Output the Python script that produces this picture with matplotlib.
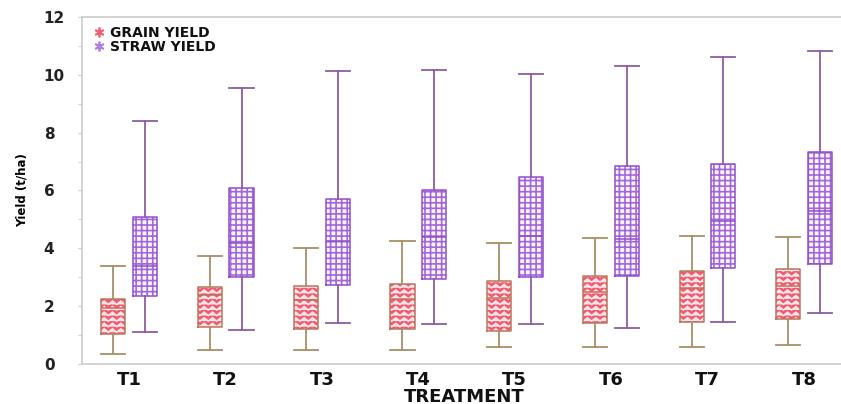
# -*- coding: utf-8 -*-
# Grain and straw yield box plots per treatment (T1..T8)

import numpy as np
import matplotlib
matplotlib.use('Agg')
import matplotlib.pyplot as plt
import matplotlib.hatch as mhatch
from matplotlib.path import Path
from matplotlib.lines import Line2D

# data (t/ha)
treatments = ['T1', 'T2', 'T3', 'T4', 'T5', 'T6', 'T7', 'T8']

grain_low = [0.34, 0.48, 0.48, 0.48, 0.58, 0.58, 0.58, 0.65]
grain_q1 = [1.03, 1.29, 1.20, 1.22, 1.14, 1.42, 1.45, 1.55]
grain_med = [1.94, 2.38, 2.21, 2.26, 2.27, 2.48, 2.64, 2.70]
grain_q3 = [2.26, 2.65, 2.69, 2.78, 2.88, 3.04, 3.20, 3.27]
grain_high = [3.40, 3.75, 4.01, 4.27, 4.18, 4.37, 4.44, 4.39]

straw_low = [1.10, 1.18, 1.41, 1.37, 1.37, 1.25, 1.44, 1.78]
straw_q1 = [2.35, 3.02, 2.72, 2.95, 3.02, 3.06, 3.31, 3.47]
straw_med = [3.40, 4.20, 4.27, 4.40, 4.43, 4.31, 4.95, 5.29]
straw_q3 = [5.07, 6.10, 5.71, 6.03, 6.46, 6.85, 6.91, 7.32]
straw_high = [8.42, 9.54, 10.12, 10.15, 10.04, 10.30, 10.63, 10.84]


class WaveHatch(mhatch.HatchPatternBase):
    """'-' gives zigzag lines, '+' keeps the plain horizontal lines"""

    def __init__(self, hatch, density):
        self.num_waves = int(hatch.count('-') * density)
        self.num_lines = int(hatch.count('+') * density)
        self.periods = 12
        self.pts = self.periods * 2 + 1
        self.num_vertices = self.num_waves * self.pts + self.num_lines * 2

    def set_vertices_and_codes(self, vertices, codes):
        cur = 0
        if self.num_waves:
            steps, step = np.linspace(0.0, 1.0, self.num_waves, False, retstep=True)
            steps += step / 2.
            xs = np.linspace(0.0, 1.0, self.pts)
            amp = np.where(np.arange(self.pts) % 2 == 1, 0.3 * step, -0.3 * step)
            for s in steps:
                vertices[cur:cur + self.pts, 0] = xs
                vertices[cur:cur + self.pts, 1] = s + amp
                codes[cur] = Path.MOVETO
                codes[cur + 1:cur + self.pts] = Path.LINETO
                cur += self.pts
        if self.num_lines:
            steps, step = np.linspace(0.0, 1.0, self.num_lines, False, retstep=True)
            steps += step / 2.
            n = self.num_lines * 2
            vertices[cur:cur + n:2, 0] = 0.0
            vertices[cur:cur + n:2, 1] = steps
            vertices[cur + 1:cur + n:2, 0] = 1.0
            vertices[cur + 1:cur + n:2, 1] = steps
            codes[cur:cur + n:2] = Path.MOVETO
            codes[cur + 1:cur + n:2] = Path.LINETO


mhatch._hatch_types[mhatch._hatch_types.index(mhatch.HorizontalHatch)] = WaveHatch
plt.rcParams['hatch.linewidth'] = 1.2


def make_stats(low, q1, med, q3, high):
    stats = list()
    for lo, a, m, b, hi in zip(low, q1, med, q3, high):
        stats.append({'whislo': lo, 'q1': a, 'med': m, 'q3': b, 'whishi': hi, 'fliers': []})
    return stats


def draw_boxes(ax, stats, pos, face, hatch_color, hatch, edge, whisker):
    # filled + hatched part (edge colour = hatch colour)
    fill = ax.bxp(stats, positions=pos, widths=0.25, patch_artist=True,
                  showfliers=False, showcaps=False, manage_ticks=False,
                  whiskerprops=dict(linewidth=0), medianprops=dict(linewidth=0),
                  boxprops=dict(facecolor=face, edgecolor=hatch_color,
                                hatch=hatch, linewidth=0))
    # outlines, whiskers, caps and median on top
    ax.bxp(stats, positions=pos, widths=0.25, capwidths=0.25,
           showfliers=False, manage_ticks=False,
           boxprops=dict(color=edge, linewidth=1.1),
           whiskerprops=dict(color=whisker, linewidth=1.3),
           capprops=dict(color=whisker, linewidth=1.3),
           medianprops=dict(color=edge, linewidth=1.1))
    return fill


fig = plt.figure(figsize=(8.41, 4.04), dpi=100)
ax = fig.add_axes([0.0975, 0.099, 0.91, 0.859])

x = np.arange(1, len(treatments) + 1)
grain_stats = make_stats(grain_low, grain_q1, grain_med, grain_q3, grain_high)
straw_stats = make_stats(straw_low, straw_q1, straw_med, straw_q3, straw_high)

draw_boxes(ax, grain_stats, x - 0.165, '#f25a70', '#fde6ea', '---', '#b9765a', '#a89068')
draw_boxes(ax, straw_stats, x + 0.165, '#fbf7fd', '#a466dc', '+++', '#9150c8', '#8e5d9e')

ax.set_xlim(0.51, 8.45)
ax.set_ylim(0, 12)
ax.set_yticks(range(0, 13, 2))
ax.set_yticks(range(1, 12, 2), minor=True)
ax.set_xticks(x)
ax.set_xticklabels(treatments, fontsize=13, fontweight='bold', color='#111111')
ax.tick_params(axis='x', length=0, pad=5)
ax.tick_params(axis='y', which='both', direction='out', length=3, color='#b8cde6',
               labelsize=11, labelcolor='#222222', pad=24.5)
for lab in ax.get_yticklabels():
    lab.set_fontweight('semibold')
    lab.set_horizontalalignment('left')

for side in ['top', 'left', 'bottom']:
    ax.spines[side].set_color('#cccccc')
    ax.spines[side].set_linewidth(1.2)
ax.spines['right'].set_visible(False)

ax.set_ylabel('Yield (t/ha)', fontsize=8.5, fontweight='bold', labelpad=11)
ax.set_xlabel('TREATMENT', fontsize=13, fontweight='bold', labelpad=-1, color='#111111')

handles = [Line2D([], [], linestyle='none', marker=(6, 2, 0), markersize=7,
                  markeredgewidth=1.3, color='#f0607a'),
           Line2D([], [], linestyle='none', marker=(6, 2, 0), markersize=7,
                  markeredgewidth=1.3, color='#b37ce0')]
leg = ax.legend(handles, ['GRAIN YIELD', 'STRAW YIELD'], loc='upper left',
                bbox_to_anchor=(0.0, 1.01), frameon=False, handlelength=0.6,
                handletextpad=0.5, labelspacing=0.0,
                prop={'size': 10, 'weight': 'bold'})
for t in leg.get_texts():
    t.set_color('#111111')

fig.savefig('out.png', dpi=100)
